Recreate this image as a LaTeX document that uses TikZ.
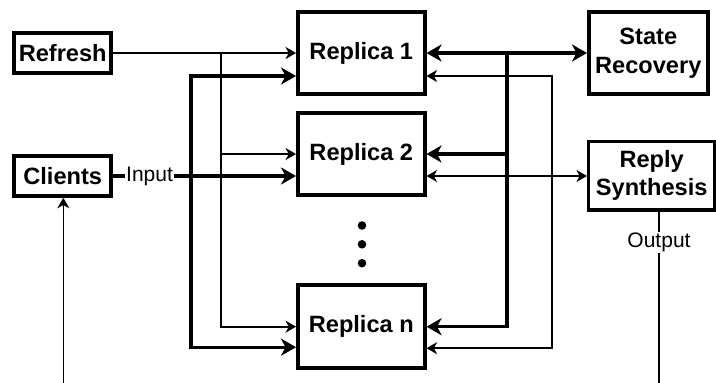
\documentclass[tikz,border=0pt]{standalone}
\usepackage{fontspec}
\setmainfont{Liberation Sans}
\usetikzlibrary{arrows.meta,calc}

\tikzset{
  box/.style={draw=black, line width=3.5pt, minimum width=#1, inner sep=0pt,
              align=center, font=\bfseries\fontsize{23.6}{28.5}\selectfont},
  box/.default=127pt,
  bigtip/.tip={Stealth[length=15pt,width=17pt,inset=4.5pt]},
  smalltip/.tip={Stealth[length=10.5pt,width=12pt,inset=3.2pt]},
  heavy/.style={line width=3.2pt},
  medium/.style={line width=2.3pt},
  light/.style={line width=1.6pt},
  edgelabel/.style={fill=white, inner sep=1pt, font=\fontsize{21}{24}\selectfont},
  dot/.style={circle, fill=black, minimum size=8.6pt, inner sep=0pt}
}

\begin{document}
\begin{tikzpicture}[x=1pt, y=-1pt]
\useasboundingbox (0,0) rectangle (716,383);

% left-hand sources
\node[box=97pt, minimum height=40pt] (refresh) at (62.7,53) {Refresh};
\node[box=97pt, minimum height=40pt] (clients) at (62.7,176) {Clients};

% replicas
\node[box, minimum height=82pt] (r1) at (361.3,53) {Replica 1};
\node[box, minimum height=82pt] (r2) at (361.3,154) {Replica 2};
\node[box, minimum height=83pt] (rn) at (361.3,326.7) {Replica n};
\node[dot] (d1) at (362,225.5) {};
\node[dot] (d2) at (362,244.3) {};
\node[dot] (d3) at (362,263.2) {};

% right-hand sinks
\node[box=119pt, minimum height=82pt] (state) at (648.3,53) {State\\Recovery};
\node[box=126pt, minimum height=68.5pt] (reply) at (651.7,175.5) {Reply\\Synthesis};

% lower ports of the replicas
\coordinate (r1lw) at ($(r1.west)+(0,23)$);
\coordinate (rnlw) at ($(rn.west)+(0,20.5)$);
\coordinate (r1le) at ($(r1.east)+(0,23)$);
\coordinate (r2le) at ($(r2.east)+(0,22)$);
\coordinate (rnle) at ($(rn.east)+(0,21.5)$);

% junctions of the bus lines
\coordinate (jref) at (221,53);
\coordinate (jin)  at (191,176);
\coordinate (jrec) at (507,53);
\coordinate (jrep) at (552,176);
\coordinate (outend) at (659,385);
\coordinate (inbeg)  at (63.3,385);

% refresh bus
\draw[medium] (refresh.east) -- (jref);
\draw[light,-smalltip] (jref) -- (r1.west);
\draw[light,-smalltip] (jref) |- (rn.west);
\draw[light,-smalltip] (jref |- r2.west) -- (r2.west);

% client input bus
\draw[heavy,-bigtip] (clients.east) -- node[edgelabel, pos=0.2] {Input} (clients.east -| r2.west);
\draw[heavy,-bigtip] (jin) |- (r1lw);
\draw[heavy,-bigtip] (jin) |- (rnlw);

% state recovery bus
\draw[heavy,bigtip-bigtip] (r1.east) -- (state.west);
\draw[heavy,-bigtip] (jrec) |- (rn.east);
\draw[heavy,-bigtip] (jrec |- r2.east) -- (r2.east);

% reply synthesis bus
\draw[light,smalltip-smalltip] (r2le) -- (reply.west |- r2le);
\draw[light,-smalltip] (jrep) |- (r1le);
\draw[light,-smalltip] (jrep) |- (rnle);

% external output and client requests
\draw[light] (reply.south -| outend) -- node[edgelabel, pos=0.18] {Output} (outend);
\draw[light,-smalltip] (inbeg) -- (inbeg |- clients.south);
\end{tikzpicture}
\end{document}
